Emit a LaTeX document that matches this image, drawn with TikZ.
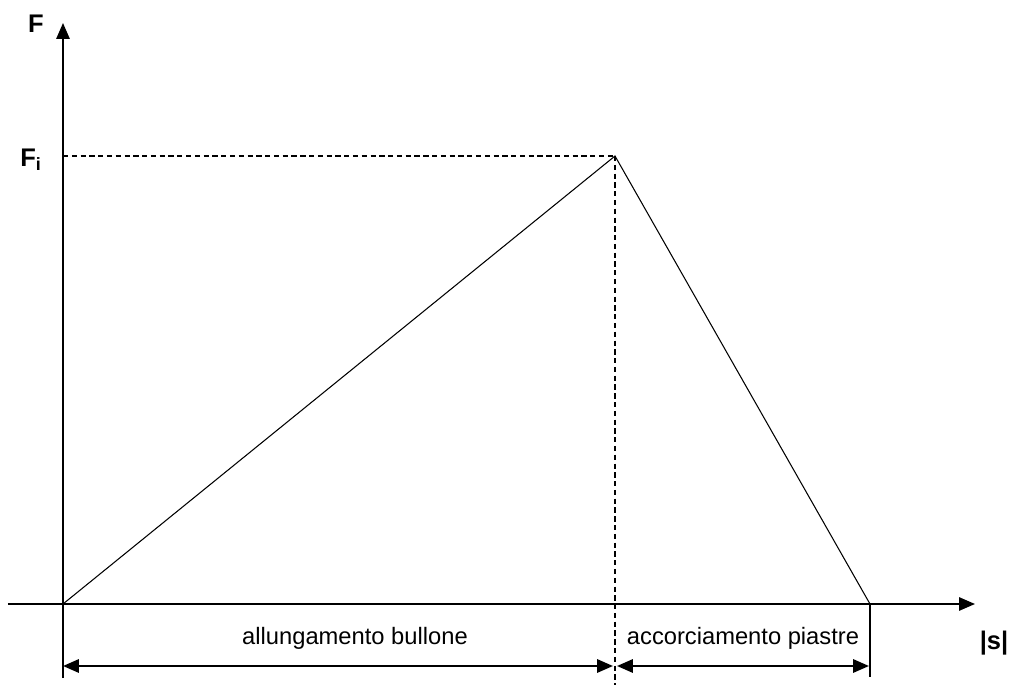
\documentclass[tikz,border=0pt]{standalone}
\usepackage{fontspec}
\setmainfont{Liberation Sans}
\usetikzlibrary{arrows.meta}

\tikzset{
  axisline/.style={line width=1.1pt, -{Triangle[length=9pt,width=7.5pt]}},
  plainline/.style={line width=1.1pt},
  loadline/.style={line width=0.6pt},
  guideline/.style={line width=0.6pt, dash pattern=on 3pt off 2pt},
  dimline/.style={line width=1.3pt, {Triangle[length=9pt,width=7.5pt]}-{Triangle[length=9pt,width=7.5pt]}},
  dimtext/.style={font=\fontsize{13.5}{16}\selectfont, inner sep=0pt},
  axistext/.style={font=\fontsize{14.5}{17}\selectfont\bfseries, inner sep=0pt}
}

\begin{document}
\begin{tikzpicture}
        \useasboundingbox (-1.26,-1.62) rectangle (18.96,12.08);      %
        \coordinate (O)     at (0,0);                                 % origin
        \coordinate (Ytop)  at (0,11.62);                             %
        \coordinate (Ybot)  at (0,-1.48);                             %
        \coordinate (Xleft) at (-1.1,0);                              %
        \coordinate (Xend)  at (18.24,0);                             %
        \coordinate (peak)  at (11.04,8.96);                          % F_i
        \coordinate (Fi)    at (0,8.96);                              %
        \coordinate (foot)  at (16.14,0);                             %
        \coordinate (peakb) at (11.04,-1.62);                         %
        \coordinate (footb) at (16.14,-1.46);                         %
        \coordinate (dimA)  at (0,-1.24);                             %
        \coordinate (dimB)  at (11.0,-1.24);                          %
        \coordinate (dimC)  at (11.08,-1.24);                         %
        \coordinate (dimD)  at (16.12,-1.24);                         %

        \draw [axisline]  (Ybot) -- (Ytop);                           % F axis
        \draw [axisline]  (Xleft) -- (Xend);                          % |s| axis
        \draw [guideline] (Fi) -- (peak);                             %
        \draw [guideline] (peak) -- (peakb);                          %
        \draw [loadline]  (O) -- (peak) -- (foot);                    %
        \draw [plainline] (foot) -- (footb);                          %
        \draw [dimline]   (dimA) -- (dimB);                           %
        \draw [dimline]   (dimC) -- (dimD);                           %

        \node [axistext] (Flbl)  at (-0.54,11.6)  {F};                %
        \node [axistext] (Filbl) at (-0.64,8.88)  {F\textsubscript{i}};%
        \node [axistext] (slbl)  at (18.62,-0.78) {|s|};              %
        \node [dimtext]  (bolt)  at (5.84,-0.68)  {allungamento bullone};%
        \node [dimtext]  (plate) at (13.6,-0.68)  {accorciamento piastre};%
      \end{tikzpicture}
\end{document}
